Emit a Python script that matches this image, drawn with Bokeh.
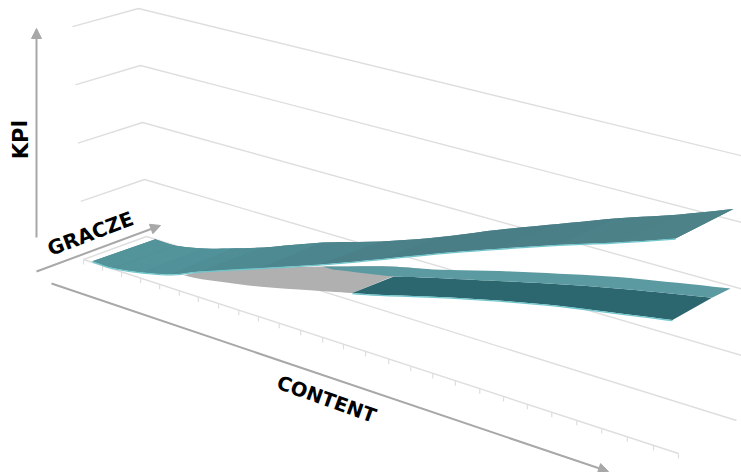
from bokeh.embed import file_html
from bokeh.models import Arrow, NormalHead
from bokeh.plotting import figure
from bokeh.resources import INLINE

# Surface readings: KPI height along CONTENT, at the back and front GRACZE edges.
content = [0.015, 0.05, 0.10, 0.15, 0.20, 0.30, 0.40, 0.50, 0.60, 0.70, 0.80, 0.90, 0.995]
upper_back = [0.00, 0.00, 0.11, 0.27, 0.44, 0.82, 1.13, 1.48, 1.87, 2.22, 2.56, 2.86, 3.17]
upper_front = [0.02, 0.02, 0.11, 0.24, 0.45, 0.82, 1.18, 1.56, 1.94, 2.29, 2.62, 2.92, 3.22]

lower_content = [0.17, 0.20, 0.30, 0.40, 0.454, 0.50, 0.60, 0.70, 0.80, 0.90, 0.99]
lower_back = [0.12, 0.11, 0.42, 0.72, 0.85, 0.95, 1.21, 1.44, 1.65, 1.82, 1.96]
lower_front = [0.29, 0.32, 0.51, 0.75, 0.88, 0.99, 1.25, 1.48, 1.68, 1.84, 1.98]
ridge_content = [0.35, 0.40, 0.454, 0.50, 0.60, 0.70, 0.80, 0.90, 0.99]
lower_ridge = [0.66, 0.75, 0.85, 0.97, 1.21, 1.44, 1.65, 1.83, 1.98]

kpi_levels = [1, 2, 3, 4]
content_ticks = [0, .032, .064, .096, .128, .161, .193, .227, .261, .294, .329, .365, .402, .437,
                 .474, .513, .550, .587, .625, .666, .706, .746, .787, .829, .871, .914, .958, 1]
upper_shades = ["#53949a", "#53939a", "#51919a", "#508e95", "#4e8a91", "#4c858d", "#4b8089",
                "#4a7e87", "#4a7e87", "#4b7f88", "#4c8188", "#4d8289"]

RIDGE_G = 0.68
STEPS = 5


def project(c, g, k):
    """Oblique view of (content, gracze, kpi) with heights growing towards the near end."""
    x = 83 + 595 * c + g * (63 - 5 * c) - (2 + 0.75 * (1 - g)) * k * (1 - c)
    y = 259 + 194 * c + g * (-23 - 10 * c) - k * (57 + 9.5 * c) - 1.2 * (1 - g) * k * (1 - c)
    return x, y


def rounded(values):
    """Catmull-Rom curve through a list of values, STEPS samples per interval."""
    out = []
    last = len(values) - 1
    for i in range(last):
        a, b, c, d = (values[max(i - 1, 0)], values[i], values[i + 1], values[min(i + 2, last)])
        for s in range(STEPS):
            t = s / STEPS
            out.append(0.5 * (2 * b + (c - a) * t + (2 * a - 5 * b + 4 * c - d) * t ** 2
                              + (3 * b - a - 3 * c + d) * t ** 3))
    out.append(values[-1])
    return out


def edge(cs, g, ks):
    pts = [project(c, g, k) for c, k in zip(rounded(cs), rounded(ks))]
    return [q[0] for q in pts], [q[1] for q in pts]


p = figure(width=741, height=472, x_range=(0, 741), y_range=(472, 0), output_backend="svg",
           toolbar_location=None, min_border=0, outline_line_color=None,
           background_fill_color="white", border_fill_color="white")
p.axis.visible = False
p.grid.visible = False

GRID = "#dedede"
AXIS = "#a8a8a8"

# Wall lines at each KPI level, then the floor outline and its ticks.
for level in kpi_levels:
    pts = [project(0, 0, level), project(0, 1, level), project(1.02, 1, level)]
    p.line([q[0] for q in pts], [q[1] for q in pts], line_color=GRID, line_width=1.4)

floor = [project(1, 0, 0), project(0, 0, 0), project(0, 1, 0), project(1, 1, 0)]
p.line([q[0] for q in floor], [q[1] for q in floor], line_color=GRID, line_width=1.4)
for t in content_ticks:
    tx, ty = project(t, 0, 0)
    p.line([tx, tx], [ty, ty + 5], line_color=GRID, line_width=1.2)

# Lower surface: grey below the cut-off, teal above it.
lbx, lby = edge(lower_content, 1, lower_back)
lfx, lfy = edge(lower_content, 0, lower_front)
rx, ry = edge(ridge_content, RIDGE_G, lower_ridge)
cut = lower_content.index(0.454) * STEPS
ridge_cut = ridge_content.index(0.454) * STEPS

p.patch(lbx[:cut + 1] + lfx[:cut + 1][::-1], lby[:cut + 1] + lfy[:cut + 1][::-1],
        fill_color="#b0b0b0", line_color=None)
p.patch(rx[ridge_cut:] + lfx[cut:][::-1], ry[ridge_cut:] + lfy[cut:][::-1],
        fill_color="#2c666e", line_color=None)
p.line(lfx[cut:], [y + 0.6 for y in lfy[cut:]], line_color="#6fc6cc", line_width=1.3)
start = lower_content.index(0.30) * STEPS
p.patch(rx + lbx[start:][::-1], ry + lby[start:][::-1], fill_color="#5b9aa1", line_color=None)

# Upper ribbon: one flat base so no seams show, then a band of shade per CONTENT interval.
ubx, uby = edge(content, 1, upper_back)
ufx, ufy = edge(content, 0, upper_front)
p.patch(ubx + ufx[::-1], uby + ufy[::-1], fill_color="#4c848c", line_color=None)
for i, shade in enumerate(upper_shades):
    a, b = i * STEPS, (i + 1) * STEPS + 1
    p.patch(ubx[a:b] + ufx[a:b][::-1], uby[a:b] + ufy[a:b][::-1], fill_color=shade, line_color=None)
p.line(ufx, [y + 0.6 for y in ufy], line_color="#6fc6cc", line_width=1.3)

# Axis arrows and their titles.
for x0, y0, x1, y1 in [(36, 237, 36, 28), (36, 271, 160, 225), (51, 283, 608, 471)]:
    p.add_layout(Arrow(x_start=x0, y_start=y0, x_end=x1, y_end=y1, line_color=AXIS, line_width=2,
                       end=NormalHead(size=10, fill_color=AXIS, line_color=AXIS)))

for label, x, y, angle, size in [("KPI", 20, 139, 1.571, "21px"), ("GRACZE", 90, 233, 0.36, "20px"),
                                 ("CONTENT", 326, 399, -0.345, "19.5px")]:
    p.text([x], [y], text=[label], angle=angle, text_align="center", text_baseline="middle",
           text_font={"value": "DejaVu Sans"}, text_font_style="bold", text_font_size=size,
           text_color="#000000")

open("out.html", "w").write(file_html(p, INLINE))
